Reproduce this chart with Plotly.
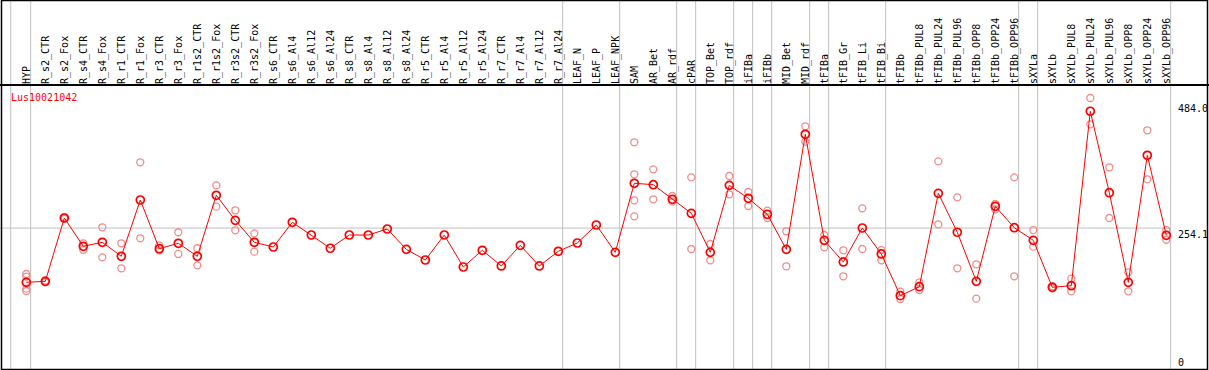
import plotly.graph_objects as go

categories = ["HYP", "R_s2_CTR", "R_s2_Fox", "R_s4_CTR", "R_s4_Fox", "R_r1_CTR", "R_r1_Fox",
              "R_r3_CTR", "R_r3_Fox", "R_r1s2_CTR", "R_r1s2_Fox", "R_r3s2_CTR", "R_r3s2_Fox",
              "R_s6_CTR", "R_s6_Al4", "R_s6_Al12", "R_s6_Al24", "R_s8_CTR", "R_s8_Al4", "R_s8_Al12",
              "R_s8_Al24", "R_r5_CTR", "R_r5_Al4", "R_r5_Al12", "R_r5_Al24", "R_r7_CTR", "R_r7_Al4",
              "R_r7_Al12", "R_r7_Al24", "LEAF_N", "LEAF_P", "LEAF_NPK", "SAM", "AR_Bet", "AR_rdf",
              "cPAR", "TOP_Bet", "TOP_rdf", "iFIBa", "iFIBb", "MID_Bet", "MID_rdf", "tFIBa",
              "tFIB_Gr", "tFIB_Li", "tFIB_Bi", "tFIBb", "tFIBb_PUL8", "tFIBb_PUL24", "tFIBb_PUL96",
              "tFIBb_OPP8", "tFIBb_OPP24", "tFIBb_OPP96", "sXYLa", "sXYLb", "sXYLb_PUL8",
              "sXYLb_PUL24", "sXYLb_PUL96", "sXYLb_OPP8", "sXYLb_OPP24", "sXYLb_OPP96"]

means = [155.1, 156.9, 272.4, 220.8, 228.1, 202.6, 305.3, 216.4, 226.3, 202.6, 313.9, 268.2,
         228.1, 219.5, 264.6, 241.4, 217.2, 241.4, 241.4, 252.4, 215.3, 195.8, 241.4, 183.0,
         213.5, 184.9, 222.6, 184.9, 211.7, 226.8, 259.7, 209.8, 335.8, 333.2, 306.6, 281.0,
         209.8, 332.1, 308.4, 279.2, 215.3, 425.2, 231.7, 192.2, 254.2, 206.8, 130.7, 147.1,
         317.5, 246.4, 156.9, 293.8, 254.7, 231.7, 146.0, 148.9, 467.2, 318.6, 155.1, 386.9,
         240.9]

replicates = [[170.3, 165.4, 143.5, 139.2], [158.5, 155.3], [274.0, 270.8], [226.3, 214.6],
              [255.5, 200.7], [226.3, 180.7], [374.1, 235.4], [222.6, 213.5], [246.4, 206.8],
              [217.2, 186.1], [332.1, 293.1], [286.5, 250.0], [244.5, 211.0],
              [], [], [], [], [], [], [], [], [], [], [], [], [], [], [], [], [], [], [],
              [410.6, 352.2, 304.7, 275.5], [361.3, 306.6], [312.6, 302.2], [346.7, 215.9],
              [225.0, 195.3], [349.1, 315.7], [319.9, 294.3], [285.8, 272.4], [248.2, 184.3],
              [439.8, 411.7], [241.4, 219.0], [213.5, 166.1], [290.1, 215.9], [214.0, 195.3],
              [138.0, 124.6], [155.1, 141.1], [375.9, 260.9], [310.2, 180.7], [188.0, 125.2],
              [298.0, 288.3], [346.7, 166.1], [250.5, 220.1], [148.0, 144.0], [161.7, 138.7],
              [491.4, 443.4], [365.0, 272.4], [173.4, 138.7], [432.5, 343.1], [250.5, 232.8]]

# separators are drawn right after these categories
group_ends = ["HYP", "R_r7_Al24", "LEAF_NPK", "AR_rdf", "cPAR", "TOP_rdf", "iFIBa", "iFIBb",
              "MID_rdf", "tFIBa", "tFIB_Bi", "tFIBb_OPP96", "sXYLa", "sXYLb_OPP96"]

gene = "Lus10021042"
y_ticks = [484.0, 254.1, 0]
y_tick_text = ["484.0", "254.1", "0"]

W, H = 1209, 370
HEADER = 85
MONO = "DejaVu Sans Mono"

rep_x, rep_y = [], []
for c, reps in zip(categories, replicates):
    for r in reps:
        rep_x.append(c)
        rep_y.append(r)

fig = go.Figure()
fig.add_trace(go.Scatter(x=rep_x, y=rep_y, mode="markers",
                         marker=dict(symbol="circle-open", size=7, color="#f08c8c",
                                     line=dict(width=1.3, color="#f08c8c")),
                         hoverinfo="skip", showlegend=False))
fig.add_trace(go.Scatter(x=categories, y=means, mode="lines+markers",
                         line=dict(color="#ff0000", width=1),
                         marker=dict(symbol="circle-open", size=8, color="#ff0000",
                                     line=dict(width=1.7, color="#ff0000")),
                         showlegend=False))

shapes = []
idx = {c: i for i, c in enumerate(categories)}
sep_pos = [-0.82] + [idx[c] + 0.23 for c in group_ends]
for p in sep_pos:
    shapes.append(dict(type="line", xref="x", yref="paper", x0=p, x1=p, y0=0, y1=1,
                       line=dict(color="#c0c0c0", width=1), layer="below"))
# horizontal reference line
shapes.append(dict(type="line", xref="paper", yref="y", x0=0, x1=1170 / W,
                   y0=y_ticks[1], y1=y_ticks[1], line=dict(color="#c0c0c0", width=1),
                   layer="below"))
# header separator
shapes.append(dict(type="line", xref="paper", yref="paper", x0=0, x1=1,
                   y0=(H - HEADER) / H, y1=(H - HEADER) / H, line=dict(color="black", width=2)))
# frame
shapes.append(dict(type="rect", xref="paper", yref="paper", x0=1.5 / W, x1=1207.5 / W,
                   y0=0.5 / H, y1=1 - 0.5 / H, line=dict(color="black", width=1.5)))

annotations = [dict(text=gene, xref="paper", yref="paper", x=9 / W, y=(H - 97) / H,
                    xanchor="left", yanchor="middle", showarrow=False,
                    font=dict(family=MONO, size=10, color="#ff0000"))]
for v, t in zip(y_ticks, y_tick_text):
    annotations.append(dict(text=t, xref="paper", yref="y", x=1177 / W, y=v,
                            xanchor="left", yanchor="top" if v > 0 else "bottom",
                            yshift=0 if v > 0 else -2,
                            showarrow=False, borderpad=0,
                            font=dict(family=MONO, size=10, color="black")))

# pixel mapping: category i at 26.3 + 19*i px ; value v at 367.3 - 0.548*v px
x0_px, dx_px = 26.3, 19.0
y0_px, dy_px = 367.3, 0.548
fig.update_layout(
    template="none",
    width=W, height=H,
    margin=dict(l=0, r=0, t=0, b=0),
    paper_bgcolor="white", plot_bgcolor="white",
    showlegend=False,
    xaxis=dict(type="category", categoryorder="array", categoryarray=categories,
               range=[-x0_px / dx_px, (W - x0_px) / dx_px], domain=[0, 1],
               side="top", tickangle=-90, ticks="", showgrid=False, showline=False,
               zeroline=False, automargin=False,
               tickfont=dict(family=MONO, size=10, color="black")),
    yaxis=dict(range=[(y0_px - H) / dy_px, (y0_px - HEADER) / dy_px],
               domain=[0, (H - HEADER) / H], showgrid=False, zeroline=False,
               showticklabels=False, ticks="", showline=False, automargin=False),
    shapes=shapes,
    annotations=annotations,
)

fig.write_html("out.html", config={"displayModeBar": False},
               post_script="document.body.style.margin='0px';")
